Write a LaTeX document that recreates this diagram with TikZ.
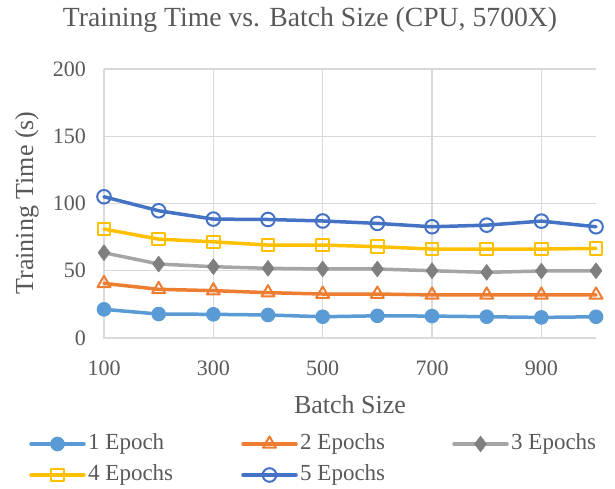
\documentclass[tikz,border=0pt]{standalone}
\usepackage{fontspec}
\setmainfont{Liberation Serif}
\usetikzlibrary{plotmarks}
\definecolor{txt}{HTML}{595959}
\definecolor{grid}{HTML}{D9D9D9}
\definecolor{sA}{HTML}{5B9BD5}
\definecolor{sB}{HTML}{ED7D31}
\definecolor{sC}{HTML}{A5A5A5}
\definecolor{sCm}{HTML}{7F7F7F}
\definecolor{sD}{HTML}{FFC000}
\definecolor{sE}{HTML}{4472C4}
\tikzset{
  lbl/.style={text=txt, inner sep=0pt},
  gridline/.style={draw=grid, line width=1.4pt},
  ser/.style={line width=3.5pt, line join=round, line cap=round},
  serA/.style={ser, draw=sA, mark=*, mark size=6.8pt, mark options={fill=sA, draw=sA, line width=1pt}},
  serB/.style={ser, draw=sB, mark=triangle, mark size=7.5pt, mark options={fill=white, draw=sB, line width=2pt}},
  serC/.style={ser, draw=sC, mark=diamond*, mark size=8pt, mark options={fill=sCm, draw=sCm, line width=0.5pt}},
  serD/.style={ser, draw=sD, mark=square, mark size=6.3pt, mark options={fill=white, draw=sD, line width=2pt}},
  serE/.style={ser, draw=sE, mark=o, mark size=6.8pt, mark options={fill=white, draw=sE, line width=2pt}},
}
\begin{document}
\begin{tikzpicture}[x=1pt, y=1pt]
\useasboundingbox (0,0) rectangle (615,489);
% title
\node[lbl, font=\fontsize{27.7}{32}\selectfont] (title) at (310,469) {Training Time vs. Batch Size (CPU, 5700X)};
\begin{scope}[shift={(49.33pt,151pt)}, x=0.5467pt, y=1.345pt]
  % gridlines
  \foreach \v in {50,100,150,200} \draw[gridline] (100,\v) -- (1000,\v);
  \foreach \b in {300,500,700,900} \draw[gridline] (\b,0) -- (\b,200);
  \draw[gridline] (100,200) -- (100,0) -- (1000,0);
  % y tick labels
  \foreach \v in {0,50,100,150,200}
    \node[lbl, anchor=east, font=\fontsize{22}{24}\selectfont] (yt\v) at (67,\v) {\v};
  % x tick labels
  \foreach \b in {100,300,500,700,900}
    \node[lbl, font=\fontsize{22}{24}\selectfont] (xt\b) at (\b,-22.3) {\b};
  % series
  \draw[serA] plot coordinates {(100,21.3) (200,17.8) (300,17.6) (400,17.1) (500,15.8) (600,16.5) (700,16.3) (800,15.8) (900,15.3) (1000,15.8)};
  \draw[serB] plot coordinates {(100,40.6) (200,36.2) (300,35.2) (400,33.7) (500,32.7) (600,32.7) (700,32) (800,32) (900,32) (1000,32)};
  \draw[serC] plot coordinates {(100,63.4) (200,55) (300,53) (400,51.8) (500,51.3) (600,51.3) (700,50) (800,48.8) (900,49.8) (1000,50)};
  \draw[serD] plot coordinates {(100,81) (200,73.5) (300,71.5) (400,69.1) (500,69.1) (600,67.9) (700,66.1) (800,66.1) (900,66.1) (1000,66.6)};
  \draw[serE] plot coordinates {(100,105) (200,94.6) (300,88.4) (400,88.1) (500,87) (600,85.2) (700,82.7) (800,83.9) (900,86.9) (1000,82.7)};
\end{scope}
% axis titles
\node[lbl, font=\fontsize{26}{28}\selectfont] (xtitle) at (350,84) {Batch Size};
\node[lbl, font=\fontsize{26}{28}\selectfont, rotate=90] (ytitle) at (27,286) {Training Time (s)};
% legend
\foreach \st/\xx/\yy/\t [count=\i] in {serA/31/45/1 Epoch, serB/243/45/2 Epochs, serC/454/45/3 Epochs, serD/31/14/4 Epochs, serE/243/14/5 Epochs}{
  \draw[\st, mark=none] (\xx,\yy) -- (\xx+53,\yy);
  \draw[\st] plot coordinates {(\xx+26.5,\yy)};
  \node[lbl, anchor=west, font=\fontsize{23}{25}\selectfont] (leg\i) at (\xx+57,\yy) {\t};
}
\end{tikzpicture}
\end{document}
